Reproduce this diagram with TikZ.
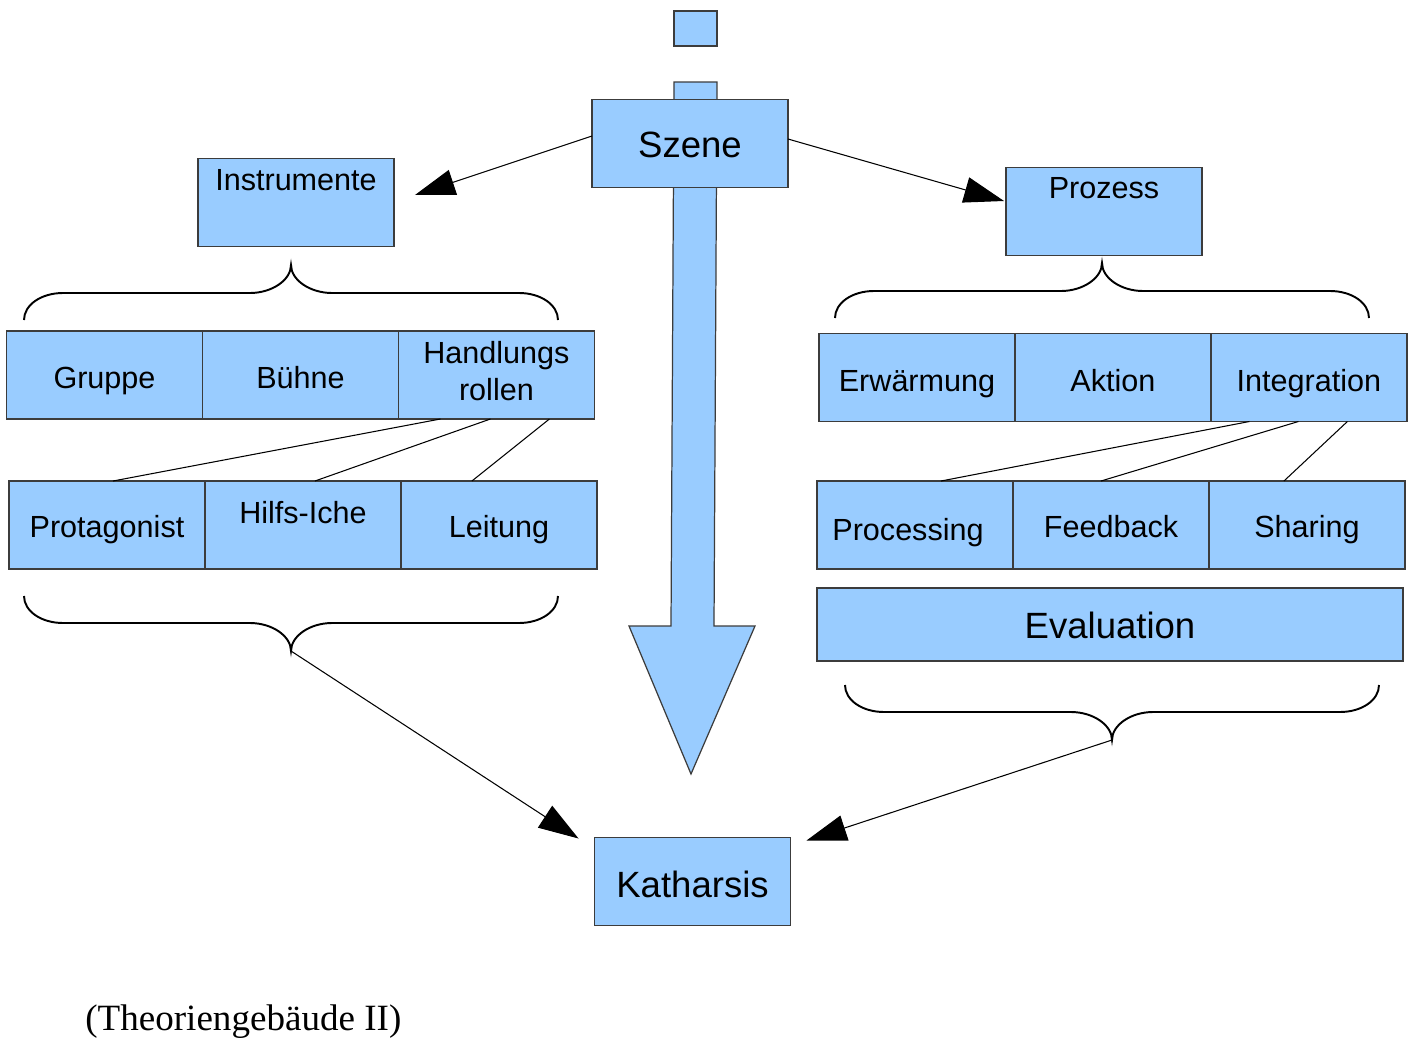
\documentclass[tikz,border=0pt]{standalone}
\usepackage{fontspec}
\setmainfont{Liberation Sans}
\newfontfamily\antiqua{Liberation Serif}
\usetikzlibrary{positioning,arrows.meta}
\definecolor{hellblau}{RGB}{153,204,255}
\definecolor{rahmen}{RGB}{60,60,60}

\begin{document}
\begin{tikzpicture}[x=0.02cm,y=-0.02cm,node distance=0pt,
  box/.style={draw=rahmen,fill=hellblau,line width=0.7pt,inner sep=0pt,outer sep=0pt,
    minimum width=3.92cm,minimum height=1.76cm,font=\fontsize{17.4pt}{21pt}\selectfont},
  gross/.style={font=\fontsize{20.8pt}{25pt}\selectfont},
  tief/.style={text height=#1,text depth=0pt},
  hoch/.style={text height=0pt,text depth=#1},
  linie/.style={line width=0.6pt},
  pfeil/.style={line width=0.6pt,-{Triangle[length=0.8cm,width=0.52cm]}},
  klammer/.pic={
    \draw[line width=1.1pt] (-267,0) .. controls +(0,15) and +(-22,0) .. (-228,27)
      -- (-41,27) .. controls +(22,0) and +(0,-15) .. (0,55)
      .. controls +(0,-15) and +(-22,0) .. (41,27) -- (228,27)
      .. controls +(22,0) and +(0,15) .. (267,0);
    \coordinate (-spitze) at (0,55);}]
\useasboundingbox (0,0) rectangle (1420,1041);

% Szenenpfeil
\draw[draw=rahmen,fill=hellblau,line width=0.7pt] (674,82) -- (671,626) -- (629,626) -- (691,774)
  -- (755,626) -- (714,626) -- (717,82) -- cycle;
\draw[draw=rahmen,fill=hellblau,line width=0.7pt] (674,11) rectangle (717,46);

\node[box,gross,tief=0.58cm] (szene) at (690,143.5) {Szene};
\node[box,hoch=0.5cm] (instrumente) at (296,202.5) {Instrumente};
\node[box,hoch=0.54cm] (prozess) at (1104,211.5) {Prozess};

% links
\node[box,tief=0.52cm] (gruppe) at (104.5,375) {Gruppe};
\node[box,tief=0.52cm,right=of gruppe] (buehne) {Bühne};
\node[box,align=center,text depth=0.18cm,right=of buehne] (handlung) {Handlungs\\rollen};
\node[box,tief=0.48cm] (protagonist) at (107,525) {Protagonist};
\node[box,hoch=0.08cm,right=of protagonist] (hilfsiche) {Hilfs-Iche};
\node[box,tief=0.48cm,right=of hilfsiche] (leitung) {Leitung};

% rechts
\node[box,tief=0.54cm] (erwaermung) at (917,377.5) {Erwärmung};
\node[box,tief=0.54cm,right=of erwaermung] (aktion) {Aktion};
\node[box,tief=0.54cm,right=of aktion] (integration) {Integration};
\node[box,tief=0.6cm] (processing) at (915,525) {Processing\hspace*{0.28cm}};
\node[box,tief=0.48cm,right=of processing] (feedback) {Feedback};
\node[box,tief=0.48cm,right=of feedback] (sharing) {Sharing};
\node[box,gross,tief=0.54cm,minimum width=11.72cm,minimum height=1.46cm] (evaluation) at (1110,624.5) {Evaluation};

\node[box,gross,tief=0.62cm] (katharsis) at (692.5,881.5) {Katharsis};

% Klammern
\pic[yscale=-1] (klOL) at (291,320) {klammer};
\pic[yscale=-1] (klOR) at (1102,318) {klammer};
\pic (klUL) at (291,596) {klammer};
\pic (klUR) at (1112,685) {klammer};

\draw[linie] ([xshift=-1.12cm]handlung.south) -- ([xshift=0.12cm]protagonist.north);
\draw[linie] ([xshift=-0.12cm]handlung.south) -- ([xshift=0.24cm]hilfsiche.north);
\draw[linie] ([xshift=1.06cm]handlung.south) -- ([xshift=-0.54cm]leitung.north);
\draw[linie] ([xshift=-1.19cm]integration.south) -- ([xshift=0.52cm]processing.north);
\draw[linie] ([xshift=-0.21cm]integration.south) -- ([xshift=-0.2cm]feedback.north);
\draw[linie] ([xshift=0.77cm]integration.south) -- ([xshift=-0.46cm]sharing.north);

\draw[pfeil] ([yshift=0.15cm]szene.west) -- ([xshift=0.42cm,yshift=0.15cm]instrumente.east);
\draw[pfeil] ([yshift=0.09cm]szene.east) -- ([xshift=-0.04cm,yshift=0.21cm]prozess.west);
\draw[pfeil] (klUL-spitze) -- ([xshift=-0.32cm,yshift=-0.02cm]katharsis.north west);
\draw[pfeil] (klUR-spitze) -- ([xshift=0.32cm,yshift=-0.06cm]katharsis.north east);

\node[anchor=base west,inner sep=0pt,font=\antiqua\fontsize{21.1pt}{25pt}\selectfont] (titel) at (85,1030) {(Theoriengebäude II)};
\end{tikzpicture}
\end{document}
